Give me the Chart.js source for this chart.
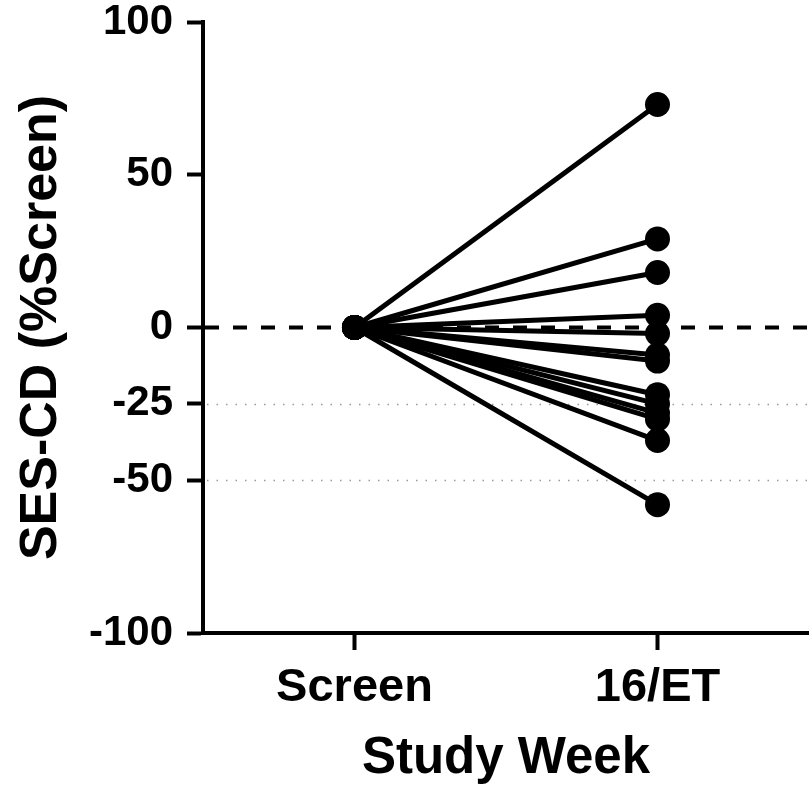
<!DOCTYPE html>
<html lang="en">
<head>
    <meta charset="UTF-8">
    <title>SES-CD by Study Week</title>
    <script src="https://cdn.jsdelivr.net/npm/chart.js"></script>
    <style>
        html, body { margin: 0; padding: 0; background: #fff; }
    </style>
</head>
<body>
<canvas id="sesChart" width="809" height="787"></canvas>
<script>
    // data
    const weeks = ['Screen', '16/ET'];
    const screenValue = 0;
    const week16Values = [73, 29, 18, 4, -2, -9, -11, -22, -25, -28, -30, -37, -58];
    const yTickValues = [100, 50, 0, -25, -50, -100];
    const dottedRefs = [-25, -50];
    const dashedRef = 0;

    const font = '"Liberation Sans", Arial, sans-serif';

    const datasets = week16Values.map(v => ({
        data: [screenValue, v],
        borderColor: '#000',
        backgroundColor: '#000',
        borderWidth: 5,
        pointRadius: 12.5,
        pointHoverRadius: 12.5,
        pointBackgroundColor: '#000',
        pointBorderWidth: 0,
        fill: false
    }));

    // reference lines under the data
    const refLinePlugin = {
        id: 'refLinePlugin',
        beforeDatasetsDraw(chart) {
            const ctx = chart.ctx;
            const area = chart.chartArea;
            const y = chart.scales.y;
            ctx.save();
            ctx.strokeStyle = '#9a9a9a';
            ctx.lineWidth = 1.5;
            ctx.setLineDash([1.5, 8]);
            dottedRefs.forEach(v => {
                const py = Math.round(y.getPixelForValue(v)) + 0.5;
                ctx.beginPath();
                ctx.moveTo(area.left + 4, py);
                ctx.lineTo(area.right, py);
                ctx.stroke();
            });
            ctx.strokeStyle = '#000';
            ctx.lineWidth = 4;
            ctx.setLineDash([14, 14]);
            const pz = y.getPixelForValue(dashedRef);
            ctx.beginPath();
            ctx.moveTo(area.left + 2, pz);
            ctx.lineTo(area.right, pz);
            ctx.stroke();
            ctx.restore();
        }
    };

    // drop the label overhang so the plot box sits where the reference has it
    const noOverhang = s => {
        s.paddingTop = 0;
        s.paddingBottom = 0;
        s.paddingLeft = 0;
        s.paddingRight = 0;
    };

    new Chart(document.getElementById('sesChart').getContext('2d'), {
        type: 'line',
        data: { labels: weeks, datasets: datasets },
        options: {
            responsive: false,
            animation: false,
            layout: { autoPadding: false, padding: { top: 22, right: 0, left: 0, bottom: 0 } },
            plugins: {
                legend: { display: false },
                tooltip: { enabled: false }
            },
            scales: {
                x: {
                    type: 'category',
                    offset: true,
                    afterFit: s => { s.height = 154; noOverhang(s); },
                    grid: {
                        drawOnChartArea: false,
                        tickLength: 17,
                        tickWidth: 4,
                        tickColor: '#000'
                    },
                    border: { color: '#000', width: 4 },
                    ticks: {
                        color: '#000',
                        padding: 10,
                        font: { family: font, size: 47, weight: 'bold' }
                    },
                    title: {
                        display: true,
                        text: 'Study Week',
                        color: '#000',
                        padding: { top: 4, bottom: -3 },
                        font: { family: font, size: 51, weight: 'bold' }
                    }
                },
                y: {
                    min: -100,
                    max: 100,
                    afterFit: s => { s.width = 203; noOverhang(s); },
                    afterBuildTicks: s => { s.ticks = yTickValues.map(v => ({ value: v })); },
                    grid: {
                        drawOnChartArea: false,
                        tickLength: 16,
                        tickWidth: 4,
                        tickColor: '#000'
                    },
                    border: { color: '#000', width: 4 },
                    ticks: {
                        color: '#000',
                        padding: 14,
                        font: { family: font, size: 42, weight: 'bold' }
                    },
                    title: {
                        display: true,
                        text: 'SES-CD (%Screen)',
                        color: '#000',
                        padding: { top: 10 },
                        font: { family: font, size: 52, weight: 'bold' }
                    }
                }
            }
        },
        plugins: [refLinePlugin]
    });
</script>
</body>
</html>
